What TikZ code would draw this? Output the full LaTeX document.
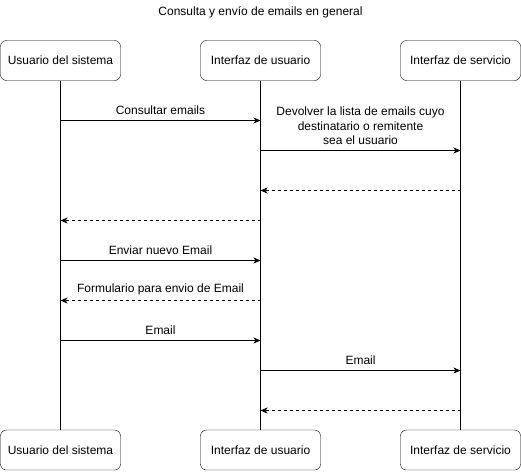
\documentclass[tikz,border=0pt]{standalone}
\usepackage{fontspec}
\setmainfont{Liberation Sans}
\usepackage{tikz}
\usetikzlibrary{arrows.meta}

\tikzset{
    actor/.style = {draw, rounded corners = 6pt, minimum width = 120pt,
        minimum height = 40pt, inner sep = 0pt, font = \fontsize{12}{14}\selectfont},
    lifeline/.style = {draw, line width = 0.8pt},
    msg/.style = {draw, line width = 0.8pt, -{Stealth[length = 7pt, width = 6pt, inset = 2pt]}},
    reply/.style = {msg, dash pattern = on 3pt off 3pt},
    msglabel/.style = {above, inner sep = 2pt, yshift = 3pt,
        font = \fontsize{12}{14.5}\selectfont, align = center}
}

\begin{document}
\begin{tikzpicture}[x = 1pt, y = -1pt]
        \useasboundingbox (0, 0) rectangle (521, 471);

        \node[font = \fontsize{12}{14}\selectfont] (title) at (260.5, 12) {Consulta y envío de emails en general};

        % top and bottom boxes
        \node[actor] (us1) at (60.5, 60.5) {Usuario del sistema};
        \node[actor] (iu1) at (260.5, 60.5) {Interfaz de usuario};
        \node[actor] (is1) at (460.5, 60.5) {Interfaz de servicio};
        \node[actor] (us2) at (60.5, 450) {Usuario del sistema};
        \node[actor] (iu2) at (260.5, 450) {Interfaz de usuario};
        \node[actor] (is2) at (460.5, 450) {Interfaz de servicio};

        % lifelines
        \draw[lifeline] (us1) -- (us2);
        \draw[lifeline] (iu1) -- (iu2);
        \draw[lifeline] (is1) -- (is2);

        % messages
        \draw[msg] (us1 |- 0, 120.5) -- node[msglabel] {Consultar emails} (iu1 |- 0, 120.5);
        \draw[msg] (iu1 |- 0, 150.5) -- node[msglabel] {Devolver la lista de emails cuyo\\destinatario o remitente\\sea el usuario} (is1 |- 0, 150.5);
        \draw[reply] (is1 |- 0, 190.5) -- (iu1 |- 0, 190.5);
        \draw[reply] (iu1 |- 0, 220.5) -- (us1 |- 0, 220.5);
        \draw[msg] (us1 |- 0, 260.5) -- node[msglabel] {Enviar nuevo Email} (iu1 |- 0, 260.5);
        \draw[reply] (iu1 |- 0, 300.5) -- node[msglabel] {Formulario para envio de Email} (us1 |- 0, 300.5);
        \draw[msg] (us1 |- 0, 340.5) -- node[msglabel] {Email} (iu1 |- 0, 340.5);
        \draw[msg] (iu1 |- 0, 370.5) -- node[msglabel] {Email} (is1 |- 0, 370.5);
        \draw[reply] (is1 |- 0, 410.5) -- (iu1 |- 0, 410.5);
\end{tikzpicture}
\end{document}
